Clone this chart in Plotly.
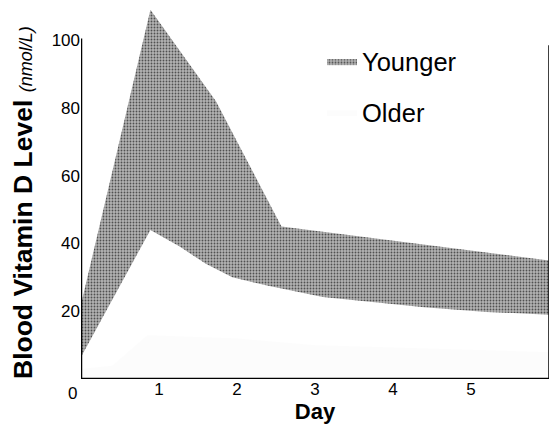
import plotly.graph_objects as go

# Younger band (upper and lower edges)
young_upper_day = [0, 0.89, 1.73, 2.57, 6]
young_upper_val = [22, 109, 82, 45, 35]
young_lower_day = [0, 0.89, 1.27, 1.6, 1.94, 2.4, 3.1, 4.4, 5.2, 6]
young_lower_val = [6.5, 44, 39, 34, 30, 27.5, 24.2, 21.2, 19.8, 19]

# Older band (almost invisible in the reference)
old_upper_day = [0, 0.4, 0.85, 2, 3, 6]
old_upper_val = [3, 4, 13, 12, 10, 8]
old_lower_day = [0, 6]
old_lower_val = [0, 1]

x_ticks = [1, 2, 3, 4, 5, 6]
y_ticks = [20, 40, 60, 80, 100]

FONT = "Liberation Sans, Arial, sans-serif"

fig = go.Figure()

fig.add_trace(go.Scatter(
    x=young_upper_day + young_lower_day[::-1],
    y=young_upper_val + young_lower_val[::-1],
    fill="toself", mode="lines", line=dict(width=0),
    fillcolor="#a4a4a4",
    fillpattern=dict(shape=".", fgcolor="#505050", bgcolor="#b3b3b3",
                     size=3, solidity=0.3, fillmode="replace"),
    name="Younger", legendgroup="y", hoverinfo="skip",
))
fig.add_trace(go.Scatter(
    x=old_upper_day + old_lower_day[::-1],
    y=old_upper_val + old_lower_val[::-1],
    fill="toself", mode="lines", line=dict(width=0),
    fillcolor="rgba(0,0,0,0.01)",
    name="Older", legendgroup="o", hoverinfo="skip",
))

# axis lines
fig.add_shape(type="line", x0=0, x1=0, y0=0, y1=100.5, xref="x", yref="y",
              line=dict(color="black", width=2.5))
fig.add_shape(type="line", x0=6, x1=6, y0=0, y1=98.5, xref="x", yref="y",
              line=dict(color="black", width=1.5))
fig.add_shape(type="line", x0=0, x1=6, y0=0, y1=0, xref="x", yref="y",
              line=dict(color="black", width=2.5))

fig.add_annotation(x=0, y=0, xref="x", yref="y", text="0", showarrow=False,
                   xanchor="center", yanchor="top", xshift=-9, yshift=-3,
                   font=dict(family=FONT, size=17, color="black"))

fig.add_annotation(
    xref="paper", yref="paper", x=-0.124, y=0.477, textangle=-90,
    text="<b>Blood Vitamin D Level</b> <span style='font-size:18px'><i>(nmol/L)</i></span>",
    showarrow=False, xanchor="center", yanchor="middle",
    font=dict(family=FONT, size=26.5, color="black"),
)

# The page adds an 8px body margin; keep the figure inside the window so no scrollbars appear.
fig.update_layout(
    width=542, height=416,
    margin=dict(l=73, r=1, t=0, b=45, autoexpand=False),
    paper_bgcolor="white", plot_bgcolor="white",
    showlegend=True,
    legend=dict(x=0.515, y=0.919, xanchor="left", yanchor="top",
                font=dict(family=FONT, size=25.5, color="black"),
                tracegroupgap=15, bgcolor="rgba(0,0,0,0)"),
    xaxis=dict(range=[0, 6], tickvals=x_ticks, showgrid=False, zeroline=False,
               showline=False, ticks="", automargin=False, ticklabelstandoff=-2,
               tickfont=dict(family=FONT, size=17, color="black"),
               title=dict(text="<b>Day</b>", standoff=3,
                          font=dict(family=FONT, size=22, color="black"))),
    yaxis=dict(range=[0, 109.5], tickvals=y_ticks, showgrid=False, zeroline=False,
               showline=False, ticks="", automargin=False,
               tickfont=dict(family=FONT, size=17, color="black")),
)

fig.write_html("out.html")
